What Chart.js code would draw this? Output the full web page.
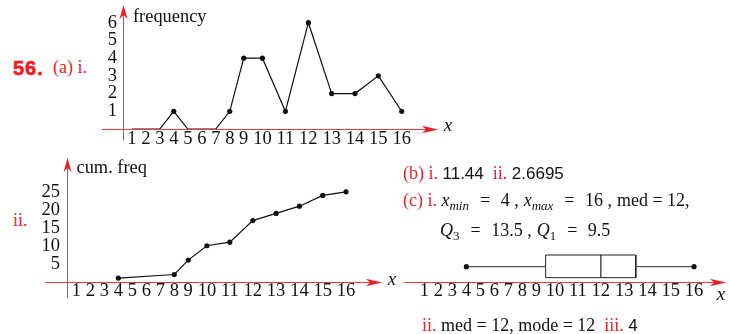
<!DOCTYPE html>
<html>
<head>
<meta charset="utf-8">
<script src="https://cdn.jsdelivr.net/npm/chart.js@4.4.1/dist/chart.umd.min.js"></script>
<style>
  body { margin: 0; background: #fff; }
  #page { position: relative; width: 730px; height: 334px; overflow: hidden; font-family: "Liberation Serif", serif; font-size: 18px; color: #111; }
  canvas { position: absolute; }
  .t { position: absolute; white-space: nowrap; line-height: 20px; }
  .r { color: #e3262d; }
  .s { font-family: "Liberation Sans", sans-serif; font-size: 17px; }
  .i { font-style: italic; }
  .eq { margin: 0 6px 0 11px; }
  .cm { margin-right: 5px; }
  sub { font-size: 13px; font-style: italic; vertical-align: -4px; line-height: 0; }
  .num { position: absolute; left: 13px; top: 57px; font-family: "Liberation Sans", sans-serif; font-weight: bold; font-size: 20px; letter-spacing: 1px; color: #ee1c25; -webkit-text-stroke: 0.6px #ee1c25; }
</style>
</head>
<body>
<div id="page">
  <canvas id="freqChart" width="375" height="150" style="left:95px;top:0"></canvas>
  <canvas id="cumChart" width="380" height="150" style="left:30px;top:150px"></canvas>
  <canvas id="boxChart" width="330" height="94" style="left:400px;top:240px"></canvas>

  <div class="num">56.</div>
  <div class="t r" style="left:53px;top:57px">(a) i.</div>
  <div class="t r" style="left:13px;top:210px">ii.</div>
  <div class="t" style="left:403px;top:163px"><span class="r">(b) i.</span> <span class="s">11.44</span>&nbsp; <span class="r">ii.</span> <span class="s">2.6695</span></div>
  <div class="t" style="left:403px;top:190px"><span class="r">(c) i.</span> <span class="i">x</span><sub>min</sub><span class="eq">=</span> 4 <span class="cm">,</span><span class="i">x</span><sub>max</sub><span class="eq">=</span> 16 <span class="cm">,</span>med = 12,</div>
  <div class="t" style="left:440px;top:220px"><span class="i">Q</span><sub style="font-style:normal">3</sub><span class="eq">=</span> 13.5 <span class="cm">,</span><span class="i">Q</span><sub style="font-style:normal">1</sub><span class="eq">=</span> 9.5</div>
  <div class="t" style="left:422px;top:315px"><span class="r">ii.</span> med = 12, mode = 12&nbsp; <span class="r">iii.</span> <span class="s">4</span></div>
</div>
<script>
// class values and frequencies read from the polygon
const classes = [1, 2, 3, 4, 5, 6, 7, 8, 9, 10, 11, 12, 13, 14, 15, 16];
const freq = [0, 0, 0, 1, 0, 0, 0, 1, 4, 4, 1, 6, 2, 2, 3, 1];
const freqTicks = [1, 2, 3, 4, 5, 6];

// cumulative frequency points
const cumX = [4, 8, 9, 10, 11, 12, 13, 14, 15, 16];
const cumFreq = [1, 2, 6, 10, 11, 17, 19, 21, 24, 25];
const cumTicks = [5, 10, 15, 20, 25];

// five number summary
const xMin = 4, q1 = 9.5, med = 12, q3 = 13.5, xMax = 16;

const axisRed = '#ea3a40';
const arrowRed = '#ee1c25';
const ink = '#111';
const tickFont = { family: 'Liberation Serif', size: 18.5, lineHeight: 1 };

// the tick labels are typeset as one line "1 2 3 ... 16", so the class
// centres sit where the text puts them, not evenly spaced
const mctx = document.createElement('canvas').getContext('2d');
mctx.font = '18.5px "Liberation Serif"';
const gap = mctx.measureText(' ').width;
const centres = [];
let run = 0;
classes.forEach(c => {
  const w = mctx.measureText(String(c)).width;
  centres.push(run + w / 2);
  run += w + gap;
});
function posOf(v) {
  const i = Math.min(Math.max(Math.floor(v) - 1, 0), classes.length - 2);
  return centres[i] + (v - classes[i]) * (centres[i + 1] - centres[i]);
}
const first = centres[0], last = centres[centres.length - 1];

function arrowRight(ctx, x, y) {
  ctx.beginPath();
  ctx.moveTo(x, y);
  ctx.lineTo(x - 16, y - 3.8);
  ctx.lineTo(x - 12, y);
  ctx.lineTo(x - 16, y + 3.8);
  ctx.closePath();
  ctx.fill();
}
function arrowUp(ctx, x, y) {
  ctx.beginPath();
  ctx.moveTo(x, y);
  ctx.lineTo(x - 4, y + 14);
  ctx.lineTo(x, y + 10);
  ctx.lineTo(x + 4, y + 14);
  ctx.closePath();
  ctx.fill();
}

const axesPlugin = {
  id: 'axes',
  beforeDatasetsDraw(chart, args, o) {
    const { ctx, chartArea: a } = chart;
    const y0 = Math.round(chart.scales.y.getPixelForValue(0)) + 0.5;
    const xl = Math.round(a.left) + 0.5;
    ctx.save();
    ctx.strokeStyle = axisRed;
    ctx.fillStyle = arrowRed;
    ctx.lineWidth = 1;
    ctx.beginPath();
    ctx.moveTo(a.left - o.xBack, y0);
    ctx.lineTo(a.right - 10, y0);
    ctx.stroke();
    arrowRight(ctx, a.right, y0);
    if (o.yAxis) {
      ctx.beginPath();
      ctx.moveTo(xl, y0 + o.yBack);
      ctx.lineTo(xl, a.top + 10);
      ctx.stroke();
      arrowUp(ctx, xl, a.top);
    }
    ctx.fillStyle = ink;
    ctx.textBaseline = 'middle';
    ctx.textAlign = 'center';
    ctx.font = 'italic 19px "Liberation Serif"';
    ctx.fillText('x', a.right + o.xDx, y0 + o.xDy);
    if (o.title) {
      ctx.textAlign = 'left';
      ctx.font = '18.4px "Liberation Serif"';
      ctx.fillText(o.title, a.left + o.titleDx, a.top + o.titleDy);
    }
    ctx.restore();
  }
};

function xScale(lo, hi, height, pad) {
  return {
    type: 'linear', min: first - lo, max: last + hi,
    grid: { display: false, drawTicks: false }, border: { display: false },
    afterBuildTicks: s => { s.ticks = classes.map(c => ({ value: posOf(c) })); },
    afterFit: s => { s.height = height; s.paddingLeft = 0; s.paddingRight = 0; },
    ticks: { autoSkip: false, maxRotation: 0, padding: pad, color: ink, font: tickFont,
             callback: (v, i) => String(classes[i]) }
  };
}

function yScale(max, ticks, width, pad) {
  return {
    min: 0, max: max,
    grid: { display: false, drawTicks: false }, border: { display: false },
    afterBuildTicks: s => { s.ticks = ticks.map(v => ({ value: v })); },
    afterFit: s => { s.width = width; s.paddingTop = 0; s.paddingBottom = 0; },
    ticks: { padding: pad, color: ink, font: tickFont }
  };
}

const common = {
  responsive: false,
  animation: false,
  devicePixelRatio: 1,
  plugins: { legend: { display: false }, tooltip: { enabled: false } }
};

// (a) i. frequency polygon
new Chart(document.getElementById('freqChart'), {
  type: 'scatter',
  data: {
    datasets: [{
      data: classes.map((c, i) => ({ x: posOf(c), y: freq[i] })),
      showLine: true, borderColor: ink, borderWidth: 1.2, backgroundColor: ink,
      pointRadius: c => (freq[c.dataIndex] > 0 ? 2.6 : 0), pointBorderWidth: 0
    }]
  },
  options: {
    ...common,
    layout: { padding: { top: 5, right: 32, left: 0, bottom: 0 } },
    scales: {
      x: xScale(8.7, 36, 21, 1),
      y: yScale(7, freqTicks, 28, 6)
    },
    plugins: { ...common.plugins,
      axes: { xBack: 21, yAxis: true, yBack: 11, xDx: 10, xDy: -4, title: 'frequency', titleDx: 10, titleDy: 12 } }
  },
  plugins: [axesPlugin]
});

// (a) ii. cumulative frequency
new Chart(document.getElementById('cumChart'), {
  type: 'scatter',
  data: {
    datasets: [{
      data: cumX.map((c, i) => ({ x: posOf(c), y: cumFreq[i] })),
      showLine: true, borderColor: ink, borderWidth: 1.2, backgroundColor: ink,
      pointRadius: 2.6, pointBorderWidth: 0
    }]
  },
  options: {
    ...common,
    layout: { padding: { top: 8, right: 28, left: 0, bottom: 0 } },
    scales: {
      x: xScale(9.3, 35.7, 18.3, 0),
      y: yScale(34.4, cumTicks, 37, 7)
    },
    plugins: { ...common.plugins,
      axes: { xBack: 22, yAxis: true, yBack: 16, xDx: 10, xDy: -3, title: 'cum. freq', titleDx: 9.5, titleDy: 10.5 } }
  },
  plugins: [axesPlugin]
});

// (c) i. box plot
const boxLo = 0.27, boxHi = 1.78, whiskerY = 1;
new Chart(document.getElementById('boxChart'), {
  type: 'scatter',
  data: {
    datasets: [
      { data: [{ x: posOf(xMin), y: whiskerY }, { x: posOf(q1), y: whiskerY }],
        showLine: true, borderColor: '#555', borderWidth: 1.2, backgroundColor: ink,
        pointRadius: [2.6, 0], pointBorderWidth: 0 },
      { data: [{ x: posOf(q3), y: whiskerY }, { x: posOf(xMax), y: whiskerY }],
        showLine: true, borderColor: '#555', borderWidth: 1.2, backgroundColor: ink,
        pointRadius: [0, 2.6], pointBorderWidth: 0 },
      { data: [{ x: posOf(q1), y: boxLo }, { x: posOf(q1), y: boxHi }, { x: posOf(q3), y: boxHi },
               { x: posOf(q3), y: boxLo }, { x: posOf(q1), y: boxLo }],
        showLine: true, borderColor: '#222', borderWidth: 1, pointRadius: 0 },
      { data: [{ x: posOf(med), y: boxLo }, { x: posOf(med), y: boxHi }],
        showLine: true, borderColor: '#222', borderWidth: 1.2, pointRadius: 0 }
    ]
  },
  options: {
    ...common,
    layout: { padding: { top: 4.2, right: 3.3, left: 3, bottom: 0 } },
    scales: {
      x: xScale(20.3, 31.7, 52.3, 0),
      y: { min: 0, max: 2.5, display: false }
    },
    plugins: { ...common.plugins,
      axes: { xBack: 0, yAxis: false, xDx: -5, xDy: 12.5 } }
  },
  plugins: [axesPlugin]
});
</script>
</body>
</html>
